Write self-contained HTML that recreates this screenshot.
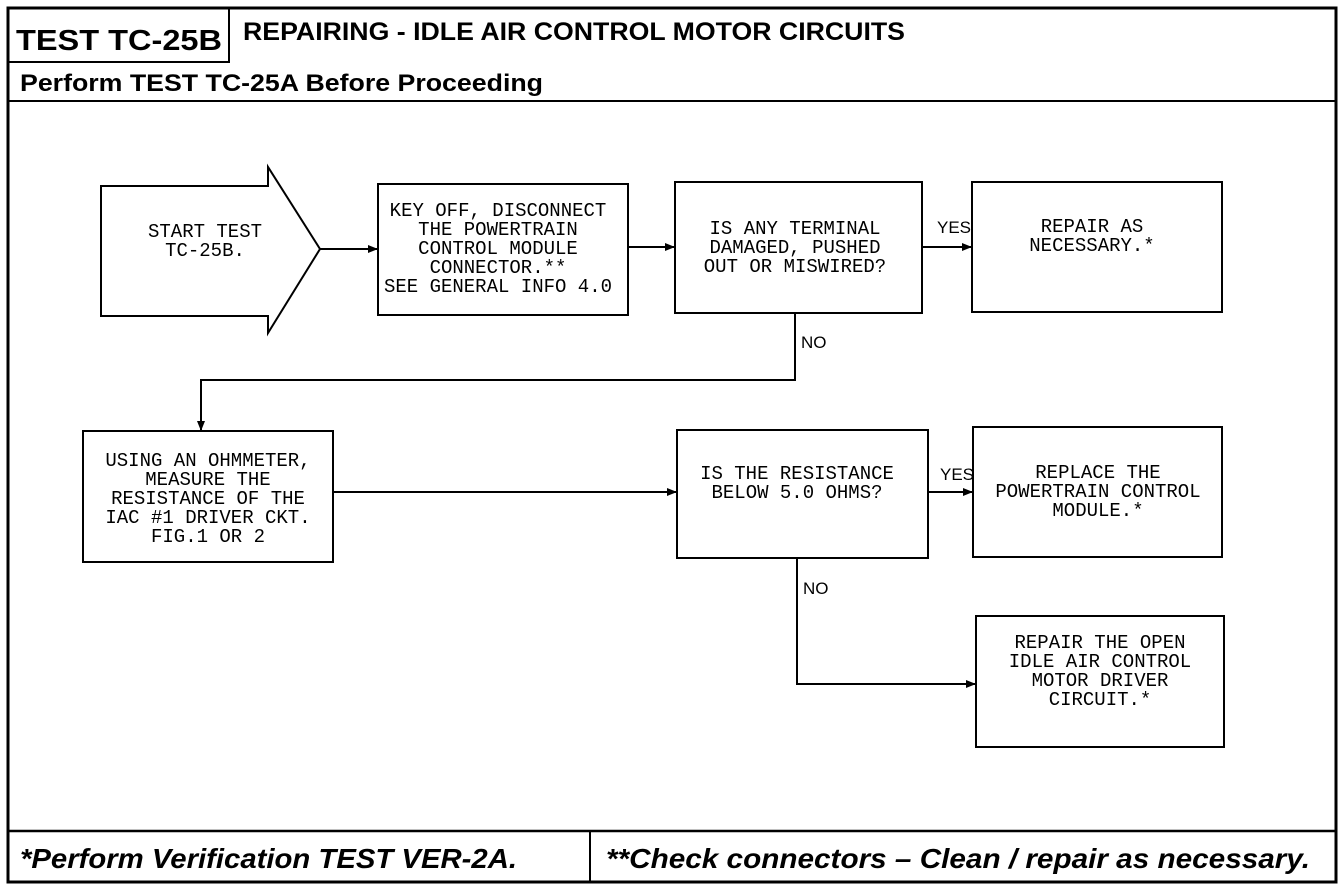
<!DOCTYPE html>
<html><head><style>
body{margin:0;background:#fff;}
svg text{font-family:"Liberation Mono",monospace;font-size:19px;fill:#000;}
.h{font-family:"Liberation Sans",Arial,sans-serif;font-weight:bold;}
.l{font-family:"Liberation Sans",sans-serif;font-size:17px;}
</style></head><body>
<svg width="1344" height="890" viewBox="0 0 1344 890" xmlns="http://www.w3.org/2000/svg">
<defs><marker id="a" markerWidth="10" markerHeight="8" refX="9" refY="4" orient="auto" markerUnits="userSpaceOnUse"><path d="M0,0 L10,4 L0,8 z" fill="#000"/></marker></defs>
<g fill="none" stroke="#000" stroke-width="2">
<rect x="8" y="8" width="1328" height="874" stroke-width="3"/>
<line x1="8" y1="101" x2="1336" y2="101"/>
<path d="M8,62 H229 V8"/>
<line x1="8" y1="831" x2="1336" y2="831" stroke-width="2.5"/>
<line x1="590" y1="831" x2="590" y2="882"/>
<path d="M101,186 H268 V167 L320,249 L268,333 V316 H101 Z"/>
<rect x="378" y="184" width="250" height="131"/>
<rect x="675" y="182" width="247" height="131"/>
<rect x="972" y="182" width="250" height="130"/>
<rect x="83" y="431" width="250" height="131"/>
<rect x="677" y="430" width="251" height="128"/>
<rect x="973" y="427" width="249" height="130"/>
<rect x="976" y="616" width="248" height="131"/>
<line x1="320" y1="249" x2="377" y2="249" marker-end="url(#a)"/>
<line x1="628" y1="247" x2="674" y2="247" marker-end="url(#a)"/>
<line x1="922" y1="247" x2="971" y2="247" marker-end="url(#a)"/>
<path d="M795,313 V380 H201 V430" marker-end="url(#a)"/>
<line x1="333" y1="492" x2="676" y2="492" marker-end="url(#a)"/>
<line x1="928" y1="492" x2="972" y2="492" marker-end="url(#a)"/>
<path d="M797,558 V684 H975" marker-end="url(#a)"/>
</g>
<text class="h" x="16" y="50" style="font-size:29px" textLength="206" lengthAdjust="spacingAndGlyphs">TEST TC-25B</text>
<text class="h" x="243" y="40" style="font-size:25px" textLength="662" lengthAdjust="spacingAndGlyphs">REPAIRING - IDLE AIR CONTROL MOTOR CIRCUITS</text>
<text class="h" x="20" y="91" style="font-size:24px" textLength="523" lengthAdjust="spacingAndGlyphs">Perform TEST TC-25A Before Proceeding</text>
<text class="h" x="20" y="868" style="font-size:28px;font-style:italic" textLength="497" lengthAdjust="spacingAndGlyphs">*Perform Verification TEST VER-2A.</text>
<text class="h" x="606" y="868" style="font-size:28px;font-style:italic" textLength="704" lengthAdjust="spacingAndGlyphs">**Check connectors – Clean / repair as necessary.</text>
<g text-anchor="middle">
<text x="205" y="237">START TEST</text><text x="205" y="256">TC-25B.</text>
<text x="498" y="216">KEY OFF, DISCONNECT</text><text x="498" y="235">THE POWERTRAIN</text><text x="498" y="254">CONTROL MODULE</text><text x="498" y="273">CONNECTOR.**</text><text x="498" y="292">SEE GENERAL INFO 4.0</text>
<text x="795" y="234">IS ANY TERMINAL</text><text x="795" y="253">DAMAGED, PUSHED</text><text x="795" y="272">OUT OR MISWIRED?</text>
<text x="1092" y="232">REPAIR AS</text><text x="1092" y="251">NECESSARY.*</text>
<text x="208" y="466">USING AN OHMMETER,</text><text x="208" y="485">MEASURE THE</text><text x="208" y="504">RESISTANCE OF THE</text><text x="208" y="523">IAC #1 DRIVER CKT.</text><text x="208" y="542">FIG.1 OR 2</text>
<text x="797" y="479">IS THE RESISTANCE</text><text x="797" y="498">BELOW 5.0 OHMS?</text>
<text x="1098" y="478">REPLACE THE</text><text x="1098" y="497">POWERTRAIN CONTROL</text><text x="1098" y="516">MODULE.*</text>
<text x="1100" y="648">REPAIR THE OPEN</text><text x="1100" y="667">IDLE AIR CONTROL</text><text x="1100" y="686">MOTOR DRIVER</text><text x="1100" y="705">CIRCUIT.*</text>
</g>
<text class="l" x="937" y="233">YES</text>
<text class="l" x="940" y="480">YES</text>
<text class="l" x="801" y="348">NO</text>
<text class="l" x="803" y="594">NO</text>
</svg>
</body></html>
